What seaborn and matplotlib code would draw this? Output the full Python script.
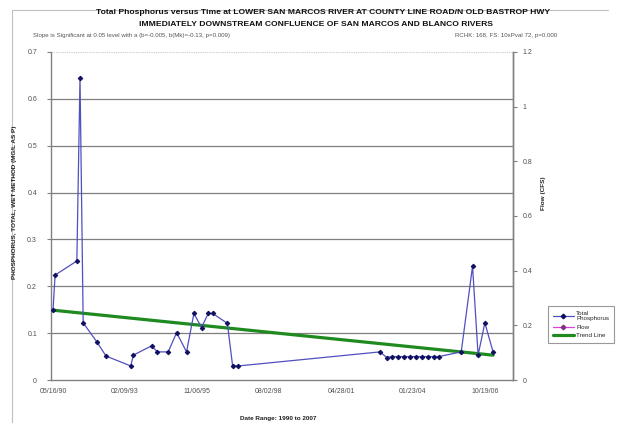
import pandas as pd
import numpy as np
import matplotlib
matplotlib.use("Agg")
import matplotlib.pyplot as plt
import matplotlib.dates as mdates
from matplotlib.lines import Line2D
import seaborn as sns

# total phosphorus samples (mg/L as P)
tp_dates = ["1990-05-16", "1990-06-14", "1991-04-12", "1991-05-26", "1991-07-09",
            "1992-01-12", "1992-05-22", "1993-04-30", "1993-06-04", "1994-02-14",
            "1994-05-05", "1994-10-02", "1995-01-27", "1995-06-14", "1995-09-24",
            "1996-01-08", "1996-04-11", "1996-06-10", "1997-01-01", "1997-03-15",
            "1997-06-03", "2002-10-23", "2003-01-23", "2003-04-05", "2003-06-28",
            "2003-09-20", "2003-12-13", "2004-03-03", "2004-05-26", "2004-08-18",
            "2004-11-10", "2005-01-19", "2005-11-24", "2006-04-30", "2006-07-16",
            "2006-10-18", "2007-02-09"]
tp_values = [0.149, 0.224, 0.254, 0.645, 0.122,
             0.082, 0.051, 0.030, 0.053, 0.073,
             0.060, 0.060, 0.101, 0.060, 0.142,
             0.112, 0.142, 0.142, 0.121, 0.030,
             0.030, 0.060, 0.048, 0.050, 0.050,
             0.050, 0.050, 0.050, 0.050, 0.050,
             0.050, 0.050, 0.060, 0.243, 0.053,
             0.122, 0.060]

# flow series (no values shown on the chart)
flow_dates = []
flow_values = []

# trend line end points
trend_dates = ["1990-05-16", "2007-02-09"]
trend_values = [0.149, 0.053]

x_ticks = ["1990-05-16", "1993-02-09", "1995-11-06", "1998-08-02",
           "2001-04-28", "2004-01-23", "2006-10-19"]
left_ticks = [0, 0.1, 0.2, 0.3, 0.4, 0.5, 0.6, 0.7]
right_ticks = [0, 0.2, 0.4, 0.6, 0.8, 1.0, 1.2]

title1 = "Total Phosphorus versus Time at LOWER SAN MARCOS RIVER AT COUNTY LINE ROAD/N OLD BASTROP HWY"
title2 = "IMMEDIATELY DOWNSTREAM CONFLUENCE OF SAN MARCOS AND BLANCO RIVERS"
sub_left = "Slope is Significant at 0.05 level with a (b=-0.005, b(Mk)=-0.13, p=0.009)"
sub_right = "RCHK: 168, FS: 10xPval 72, p=0.000"

sns.set_style("white")
plt.rcParams['font.family'] = ['Liberation Sans', 'DejaVu Sans']

tp = pd.DataFrame({"date": pd.to_datetime(tp_dates), "value": tp_values})
trend = pd.DataFrame({"date": pd.to_datetime(trend_dates), "value": trend_values})

W, H = 620, 423
fig = plt.figure(figsize=(W / 100, H / 100), dpi=100)
fig.patch.set_facecolor("white")
ax = fig.add_axes([51 / W, 1 - 380 / H, (513 - 51) / W, (380 - 52) / H])

for v in left_ticks[1:-1]:
    ax.axhline(v, color="#7f7f7f", lw=0.9, zorder=0)
ax.axhline(left_ticks[-1], color="#c8c8c8", lw=0.8, ls=(0, (1, 1)), zorder=0)

sns.lineplot(data=tp, x="date", y="value", ax=ax, color="#5050c0", lw=0.9,
             marker="D", markersize=2.3, markerfacecolor="#101060",
             markeredgecolor="#101060", zorder=3)
sns.lineplot(data=trend, x="date", y="value", ax=ax, color="#1f8a1f", lw=2.3, zorder=2)

t0 = pd.Timestamp(x_ticks[0])
ax.set_xlim(t0 - pd.Timedelta(days=28), t0 + pd.Timedelta(days=6390))
ax.set_ylim(0, 0.7)
ax.set_xticks(pd.to_datetime(x_ticks))
ax.xaxis.set_major_formatter(mdates.DateFormatter("%m/%d/%y"))
ax.set_yticks(left_ticks)
ax.set_yticklabels(["0" if v == 0 else f"{v:.1f}" for v in left_ticks])
ax.set_xlabel("")
ax.set_ylabel("")
ax.tick_params(axis="x", labelsize=5, length=3, pad=3, color="#808080", colors="#505050")
ax.tick_params(axis="y", labelsize=5, length=3, pad=7, color="#808080", colors="#505050")
ax.tick_params(axis="both", which="both", direction="out")
for s in ["left", "bottom", "right"]:
    ax.spines[s].set_color("#808080")
    ax.spines[s].set_linewidth(1.0)
ax.spines["top"].set_visible(False)

ax2 = ax.twinx()
ax2.plot(pd.to_datetime(flow_dates), flow_values, color="#e040e0", lw=0.9,
         marker="D", markersize=2.3)
ax2.set_ylim(0, 1.2)
ax2.set_yticks(right_ticks)
ax2.set_yticklabels(["0" if v == 0 else ("1" if v == 1 else f"{v:g}") for v in right_ticks])
ax2.tick_params(axis="y", labelsize=5, length=3, pad=4, color="#808080", colors="#505050")
for s in ["left", "bottom", "top"]:
    ax2.spines[s].set_visible(False)
ax2.spines["right"].set_color("#808080")
ax2.spines["right"].set_linewidth(1.0)

# titles and labels
fig.text(323 / W, 1 - 13 / H, title1, ha="center", va="center", fontsize=6.1,
         fontweight="bold", color="#111111")
fig.text(316 / W, 1 - 25 / H, title2, ha="center", va="center", fontsize=6.1,
         fontweight="bold", color="#111111")
fig.text(33 / W, 1 - 36 / H, sub_left, ha="left", va="center", fontsize=4.4, color="#555555")
fig.text(557 / W, 1 - 36 / H, sub_right, ha="right", va="center", fontsize=4.4, color="#555555")
fig.text(15 / W, 1 - 202 / H, "PHOSPHORUS, TOTAL, WET METHOD (MG/L AS P)", rotation=90,
         ha="center", va="center", fontsize=4.6, fontweight="bold", color="#222222")
fig.text(543 / W, 1 - 193 / H, "Flow (CFS)", rotation=90, ha="center", va="center",
         fontsize=4.6, fontweight="bold", color="#222222")
fig.text(278 / W, 1 - 418 / H, "Date Range: 1990 to 2007", ha="center", va="center",
         fontsize=4.6, fontweight="bold", color="#222222")

handles = [
    Line2D([], [], color="#5050c0", lw=0.9, marker="D", markersize=2.3,
           markerfacecolor="#101060", markeredgecolor="#101060"),
    Line2D([], [], color="#e040e0", lw=0.9, marker="D", markersize=2.3,
           markerfacecolor="#803080", markeredgecolor="#803080"),
    Line2D([], [], color="#1f8a1f", lw=2.3),
]
leg = fig.legend(handles, ["Total\nPhosphorus", "Flow", "Trend Line"],
                 loc="upper left", bbox_to_anchor=(545 / W, 1 - 303 / H),
                 fontsize=4.5, frameon=True, fancybox=False, handlelength=3.4,
                 borderpad=0.7, labelspacing=0.5, handletextpad=0.4)
leg.get_frame().set_edgecolor("#808080")
leg.get_frame().set_linewidth(0.8)

# outer chart frame
fig.add_artist(Line2D([12 / W, 12 / W], [0, 1 - 10 / H], transform=fig.transFigure,
                      color="#c0c0c0", lw=0.8))
fig.add_artist(Line2D([12 / W, 608 / W], [1 - 10 / H, 1 - 10 / H], transform=fig.transFigure,
                      color="#c0c0c0", lw=0.8))

fig.savefig("out.png", dpi=100)
plt.close(fig)
